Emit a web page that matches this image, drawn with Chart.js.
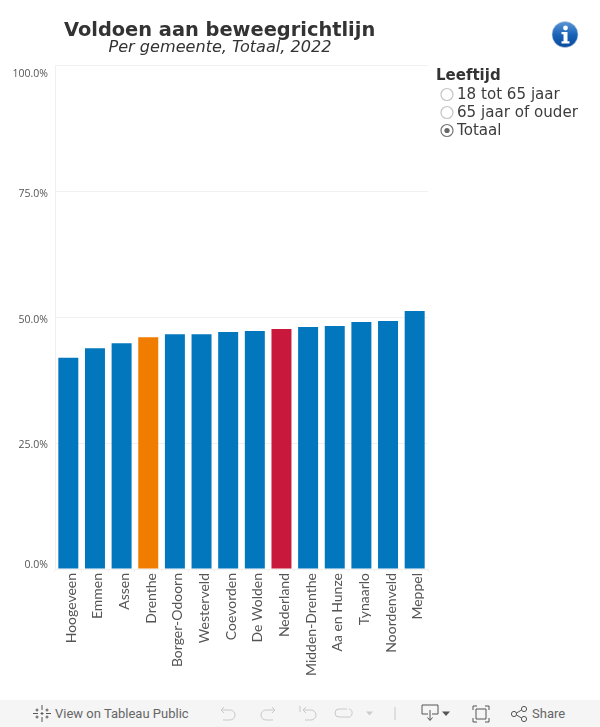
<!DOCTYPE html>
<html><head><meta charset="utf-8">
<style>
html,body{margin:0;padding:0;background:#fff;width:600px;height:727px;overflow:hidden;position:relative;font-family:"DejaVu Sans",sans-serif;color:#333}
canvas{position:absolute;left:0;top:0}
.t{position:absolute;white-space:nowrap}
.l{font-size:15.1px;color:#3c3c3c}
#bar{position:absolute;left:0;top:700px;width:600px;height:27px;background:#f5f5f5;color:#666;font:13px Roboto,sans-serif}
#bar svg{position:absolute;left:0;top:0}
</style></head><body>
<canvas id="c" width="600" height="700"></canvas>
<div class="t" style="left:64px;top:18px;font-weight:700;font-size:19.4px">Voldoen aan beweegrichtlijn</div>
<div class="t" style="left:108.500px;top:37px;font-style:italic;font-size:16.100px">Per gemeente, Totaal, 2022</div>
<svg style="position:absolute;left:550px;top:20px" width="30" height="30" viewBox="0 0 30 30">
<defs><linearGradient id="g" x1="0" y1="0" x2="0" y2="1"><stop offset="0" stop-color="#5b95d6"/><stop offset=".55" stop-color="#1560b5"/><stop offset="1" stop-color="#0b4a9c"/></linearGradient></defs>
<circle cx="15" cy="14.5" r="13" fill="url(#g)" stroke="#c9d6e6" stroke-width=".6"/>
<circle cx="15.5" cy="8" r="2.4" fill="#fff"/><path d="M11.5 12h6v9.2h2v2.3h-8v-2.3h2v-6.9h-2z" fill="#fff"/></svg>
<div class="t" style="left:436px;top:66px;font-weight:700;font-size:15px">Leeftijd</div>
<svg style="position:absolute;left:436px;top:84px" width="24" height="56">
<circle cx="11" cy="10.500" r="6" fill="#fff" stroke="#c4c4c4" stroke-width="1.2"/>
<circle cx="11" cy="28.500" r="6" fill="#fff" stroke="#c4c4c4" stroke-width="1.2"/>
<circle cx="11" cy="46.500" r="6" fill="#fff" stroke="#777" stroke-width="1.2"/><circle cx="11" cy="46.500" r="2.6" fill="#666"/></svg>
<div class="t l" style="left:457px;top:85px">18 tot 65 jaar</div>
<div class="t l" style="left:457px;top:103px">65 jaar of ouder</div>
<div class="t l" style="left:457px;top:121px">Totaal</div>
<div id="bar">
<svg width="600" height="27" fill="none" stroke="#666" stroke-width="1">
<g stroke="#555"><path d="M42 5v5M42 17v5M33 13.500h5M46 13.500h5M37 8.500v3M35.500 10h3M47 8.500v3M45.500 10h3M37 15.500v3M35.500 17h3M47 15.500v3M45.500 17h3M42 12v3M40.500 13.500h3"/></g>
<g stroke="#c9c9c9"><path d="M222 11h9a5 5 0 0 1 0 10h-7M222 11l3-3M222 11l3 3" transform="translate(-1,-1)"/><path d="M275 11h-9a5 5 0 0 0 0 10h7M275 11l-3-3M275 11l-3 3" transform="translate(0,-1)"/><path d="M303 11h8a5 5 0 0 1 0 10h-6M303 11l3-3M303 11l3 3M300 7v6" transform="translate(0,-1)"/><path d="M347 10h-8a4 4 0 0 0 0 8h8a4 4 0 0 0 2-8" transform="translate(0,-1)"/><path d="M395 7v13"/></g>
<path d="M366 11.500h7l-3.500 4z" fill="#ccc" stroke="none"/>
<path d="M428 14h-6v-9h16v9h-6M430 10v10M427.500 17.500l2.500 3 2.500-3" stroke="#555"/>
<path d="M442 11.500h8l-4 4.500z" fill="#555" stroke="none"/>
<path d="M473 10V6h4M485 6h4v4M489 18v4h-4M477 22h-4v-4M476 9h10v10h-10z" stroke="#555"/>
<g stroke="#555"><circle cx="514" cy="14" r="2.600"/><circle cx="524" cy="9" r="2.600"/><circle cx="524" cy="19" r="2.600"/><path d="M516.500 13l5-3M516.500 15l5 3"/></g>
</svg>
<div class="t" style="left:55px;top:6px">View on Tableau Public</div>
<div class="t" style="left:532px;top:6px">Share</div>
</div>
<script src="https://cdn.jsdelivr.net/npm/chart.js@4"></script>
<script>
const categories = ["Hoogeveen","Emmen","Assen","Drenthe","Borger-Odoorn","Westerveld","Coevorden","De Wolden","Nederland","Midden-Drenthe","Aa en Hunze","Tynaarlo","Noordenveld","Meppel"];
const values = [41.9,43.8,44.8,46.0,46.6,46.6,47.0,47.2,47.6,48.0,48.2,49.0,49.2,51.2];
const barColors = ["#0277bd","#0277bd","#0277bd","#f07d00","#0277bd","#0277bd","#0277bd","#0277bd","#c8193c","#0277bd","#0277bd","#0277bd","#0277bd","#0277bd"];
const yTicks = [0,25,50,75,100];
const yTickNudge = {0:-4,25:2,50:3,75:3,100:9};

const tickLabels = {
  id:'tickLabels',
  afterDraw(chart){
    const {ctx,scales:{y}} = chart;
    ctx.save();
    ctx.font='10.5px "Open Sans"';ctx.fillStyle='#555';ctx.textAlign='right';ctx.textBaseline='middle';
    yTicks.forEach(v=>ctx.fillText(v.toFixed(1)+'%',48,y.getPixelForValue(v)+yTickNudge[v]));
    ctx.restore();
  }
};
new Chart(document.getElementById('c'),{
  type:'bar',
  data:{labels:categories,datasets:[{data:values,backgroundColor:barColors,barPercentage:.75,categoryPercentage:1}]},
  plugins:[tickLabels],
  options:{
    responsive:false,animation:false,
    layout:{padding:{top:65,right:172,left:0,bottom:0}},
    plugins:{legend:{display:false},tooltip:{enabled:false}},
    scales:{
      x:{afterFit(s){s.height=131},
        grid:{drawOnChartArea:false,drawTicks:true,tickLength:3,color:'#f0f0f0',offset:true},
        border:{color:'#f0f0f0'},
        ticks:{minRotation:90,maxRotation:90,autoSkip:false,padding:1,labelOffset:3,color:'#555',font:{family:'Lato',size:14}}},
      y:{min:0,max:100,afterFit(s){s.width=55},
        afterBuildTicks(s){s.ticks=yTicks.map(v=>({value:v}))},
        grid:{color:'#f0f0f0',drawTicks:false},
        border:{color:'#f0f0f0'},
        ticks:{display:false}}
    }
  }
});
</script>
</body></html>
